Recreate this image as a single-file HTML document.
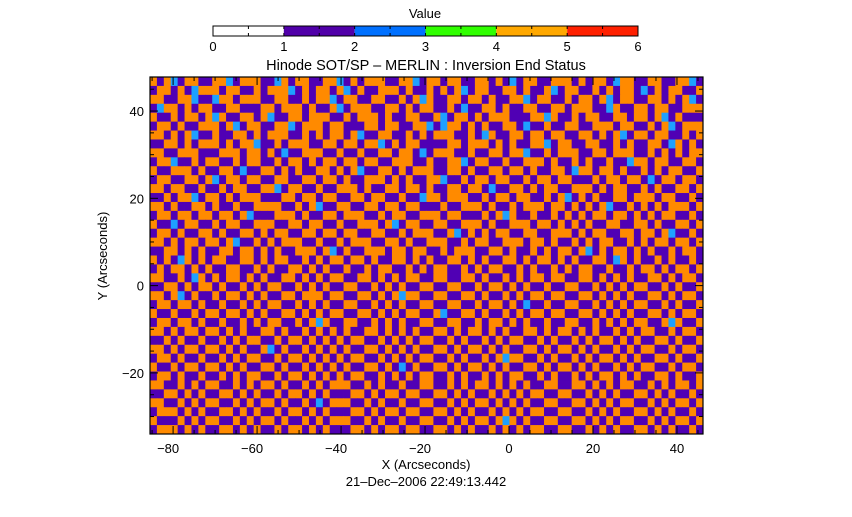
<!DOCTYPE html>
<html><head><meta charset="utf-8"><style>
body{margin:0;background:#fff;width:852px;height:512px;overflow:hidden}
svg text{font-family:"Liberation Sans",sans-serif;font-size:13px;fill:#000}
</style></head><body>
<svg id="chart" width="852" height="512" xmlns="http://www.w3.org/2000/svg">
<text x="425" y="18" text-anchor="middle">Value</text>
<g id="cbar"></g>
<text x="426" y="70" text-anchor="middle" style="font-size:14.5px">Hinode SOT/SP – MERLIN : Inversion End Status</text>
<g id="cells"></g>
<g id="axes"></g>
<text x="426" y="469" text-anchor="middle">X (Arcseconds)</text>
<text x="426" y="486" text-anchor="middle">21–Dec–2006 22:49:13.442</text>
<text transform="translate(107,256) rotate(-90)" text-anchor="middle">Y (Arcseconds)</text>
</svg>
<script>
const statusValues=[0,1,2,3,4,5,6];
const statusColors=["#ffffff","#5000a8","#0070ff","#30ff00","#ffa800","#ff2000"];
const mapColors={1:"#5000b4",2:"#1ea0ff",4:"#ff8a00"};
const xTicks=[-80,-60,-40,-20,0,20,40];
const yTicks=[-20,0,20,40];
const xRange=[-85.5,46.2];
const yRange=[-34,47.8];
const statusRows=[
"41421441144214441124144114421414441144214414411441412144114441414412441144114421",
"14414124441441141444214144142141144414114141421441144141142144114141441214144114",
"44114421124414441144114144214411441141424114414414114421441141441421441144141421",
"12441414411441114414441411421444114414144114121144141144114414441124114414411444",
"41141441424114414211441444114144414114411421441414441114424114144114414414214111",
"14414114441421441144214441441114414411442124414141144121141144114441441141421444",
"44141421141144141444114141441421144114141444114124114414414411441414214414411414",
"11441414441414421141444114414414421414411114414441414114421441144114141144124141",
"44114441114441441412114441141141144144121444114114414421141444114414441141414144",
"14421141441141441141441414414414411444114114421441141144414114141141124414411441",
"41144414114412114414141144141421144141444114414114414414114412441441411414144114",
"14411441421441441144114414414114441414114421141441441141441441114144144121441441",
"44144114114144114421441141144414114414414114414412114414144114441414411414114414",
"11414421441414441114414414411441441141124414441141441441141421414114414441441141",
"44141144141141144441141421144114414414411141144414114144414414141421141414144414",
"14414414414414211144414114414441141441144414411141424114114141414414414141441141",
"41121441141441144411441441141144414214411441144414114441441414141144114414114414",
"14414114414114414144114414414411441141444114214141441144114441414411441441421141",
"44141441441421141414441141141444114414114441141441144414414114141441141414414414",
"11441414114414414141144414214114441441441141444114414114141441421414414141141441",
"41412414144114414144114141441441411441414114414141144141441414114412414114141141",
"14144141411441141411441414114114144114141441141414411414114141441141141441414414",
"44114124141441414114414141441144141414411441144141141414414411441414141144141441",
"11441414414114141441141414114411414141144114411414414141141144114141414411414114",
"44142141141441414114414441441144141424411441144141141414414411441414141144141441",
"14414414114114141441141414114411414141144114411414414121141144114141414411414114",
"41141141441441414114414141441144141414411421144141141414414411441414141144141441",
"14414414114114141441141424114411414141144114411414414141141144114141414411424114",
"44141441441414114414114141414114414141411441414414141144141441414114141441141441",
"11414114114141441141441414141441141414144114141141414411414114141441414114414114",
"44141441441414114214114141414114414141411441414414141144141441414114141441141441",
"14414114114141441141441414141441141414144114141141424411414114141441414114414114",
"41141441441414114414114141414114414121411441414414141144141441414114141441141441",
"14414114114141441141441414141441141414144114141141414411414114141441414114414114",
"44114141441141414414114141444114141141144114141441414141144114414141441141414414",
"11441414114414141141441414111441414414411441414114141414411441141414114414141141",
"44114141441141414414114121444114141141144114141441414141144114414141441141414414",
"14441414114414141141441414111441414414411441414114141414411441141414114414141141",
"41114141441141414414114141444114141141144114141441424141144114414141441141414414",
"14441414114414141141441414111441414414411441414114141414411441141414114414141141"
];
const NS="http://www.w3.org/2000/svg";
const PL=150,PR=703,PT=77,PB=434;
function sx(v){return PL+(v-xRange[0])/(xRange[1]-xRange[0])*(PR-PL);}
function sy(v){return PB-(v-yRange[0])/(yRange[1]-yRange[0])*(PB-PT);}
const CL=213,CR=638,CT=26,CB=36;
function cx(v){return CL+(v-statusValues[0])/(statusValues[statusValues.length-1]-statusValues[0])*(CR-CL);}
function mk(tag,attrs,parent){const e=document.createElementNS(NS,tag);for(const k in attrs)e.setAttribute(k,attrs[k]);parent.appendChild(e);return e;}
const cb=document.getElementById('cbar');
for(let i=0;i<statusValues.length-1;i++){
  const r=mk('rect',{x:cx(statusValues[i]),y:CT,width:cx(statusValues[i+1])-cx(statusValues[i]),height:CB-CT,fill:statusColors[i]},cb);
  
  
}
mk('rect',{x:CL,y:CT,width:CR-CL,height:CB-CT,fill:'none',stroke:'#000','stroke-width':1},cb);
for(let v=0;v<=6;v+=0.5){mk('line',{x1:cx(v),x2:cx(v),y1:CT,y2:CT+3,stroke:'#000'},cb);mk('line',{x1:cx(v),x2:cx(v),y1:CB,y2:CB-3,stroke:'#000'},cb);}
statusValues.forEach(v=>{const t=mk('text',{x:cx(v),y:51,'text-anchor':'middle'},cb);t.textContent=v;
  
  });
const g=document.getElementById('cells');
const nr=statusRows.length;
statusRows.forEach((row,ri)=>{
  const nc=row.length;const h=(PB-PT)/nr;const w=(PR-PL)/nc;
  for(let ci=0;ci<nc;ci++){
    const c=mk('rect',{x:(PL+ci*w).toFixed(2),y:(PT+ri*h).toFixed(2),width:(w+0.4).toFixed(2),height:(h+0.4).toFixed(2),fill:mapColors[row[ci]]||"#5000b4"},g);
    
    
  }
});
const ax=document.getElementById('axes');
mk('rect',{x:PL,y:PT,width:PR-PL,height:PB-PT,fill:'none',stroke:'#000','stroke-width':1.2},ax);
for(let v=-85;v<=45;v+=5){if(v<xRange[0])continue;const L=(v%20===0)?8:4;
  mk('line',{x1:sx(v),x2:sx(v),y1:PB,y2:PB-L,stroke:'#000'},ax);mk('line',{x1:sx(v),x2:sx(v),y1:PT,y2:PT+L,stroke:'#000'},ax);}
for(let v=-30;v<=45;v+=5){const L=(v%20===0)?8:4;
  mk('line',{x1:PL,x2:PL+L,y1:sy(v),y2:sy(v),stroke:'#000'},ax);mk('line',{x1:PR,x2:PR-L,y1:sy(v),y2:sy(v),stroke:'#000'},ax);}
xTicks.forEach(v=>{const t=mk('text',{x:sx(v)-(v<0?5:0),y:453,'text-anchor':'middle'},ax);t.textContent=(v<0?'−':'')+Math.abs(v);
  
  });
yTicks.forEach(v=>{const t=mk('text',{x:144,y:sy(v)+5,'text-anchor':'end'},ax);t.textContent=(v<0?'−':'')+Math.abs(v);
  
  });
</script>
</body></html>
